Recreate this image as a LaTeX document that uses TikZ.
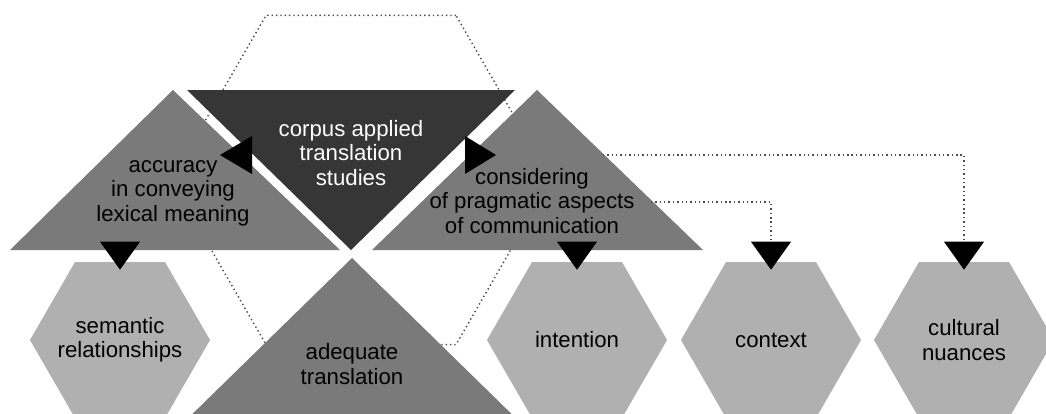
\documentclass[tikz,border=0pt]{standalone}
\usepackage{fontspec}
\setmainfont{Liberation Sans}
\usetikzlibrary{shapes.geometric}

\definecolor{darktri}{gray}{0.21}
\definecolor{midtri}{gray}{0.48}
\definecolor{hexfill}{gray}{0.69}
\definecolor{dotline}{gray}{0.3}

\begin{document}
\begin{tikzpicture}[
  x=0.025cm, y=-0.025cm,
  lbl/.style={align=center, inner sep=0pt, font=\fontsize{15.8}{17.4}\selectfont},
  hex/.style={regular polygon, regular polygon sides=6, minimum size=4.5cm, inner sep=0pt, fill=hexfill},
  link/.style={draw=dotline, line width=1pt, dash pattern=on 1pt off 2.1pt}]

  \useasboundingbox (0,0) rectangle (1046,414);
  \clip (0,0) rectangle (1046,414);

  % dotted frame behind the triangles
  \node[regular polygon, regular polygon sides=6, minimum size=9.5cm, link] (frame) at (361,180) {};

  % the four triangles
  \fill[midtri] (10,250) -- (340,250) -- (173,90) -- cycle;
  \fill[darktri] (187,90) -- (515,90) -- (351,250) -- cycle;
  \fill[midtri] (372,250) -- (703,250) -- (537,90) -- cycle;
  \fill[midtri] (352,258) -- (528,430) -- (176,430) -- cycle;

  \node[lbl, text=white] (corpus) at (351,153) {corpus applied\\translation\\studies};
  \node[lbl] (accuracy) at (173,193) {accuracy\\in conveying\\lexical meaning};
  \node[lbl] (pragmatic) at (532,201) {considering\\of pragmatic aspects\\of communication};
  \node[lbl] (adequate) at (352,364) {adequate\\translation};

  % side pointers
  \fill (252,136) -- (252,174) -- (220,155) -- cycle;
  \fill (465,136) -- (465,174) -- (496,155) -- cycle;

  % hexagons
  \node[hex, label={[lbl]center:semantic\\relationships}] (sem) at (120,340) {};
  \node[hex, label={[lbl]center:intention}] (int) at (577,340) {};
  \node[hex, label={[lbl]center:context}] (con) at (771,340) {};
  \node[hex, label={[lbl]center:cultural\\nuances}] (cul) at (964,340) {};

  \coordinate (s1) at (603,155);
  \coordinate (s2) at (651,202);
  \draw[link] (s1) -| ([yshift=.5cm]cul.north);
  \draw[link] (s2) -| ([yshift=.5cm]con.north);

  \foreach \h in {sem,int,con,cul}
    \fill ([shift={(-20,-20)}]\h.north) -- ++(40,0) -- ++(-20,28) -- cycle;
\end{tikzpicture}
\end{document}
